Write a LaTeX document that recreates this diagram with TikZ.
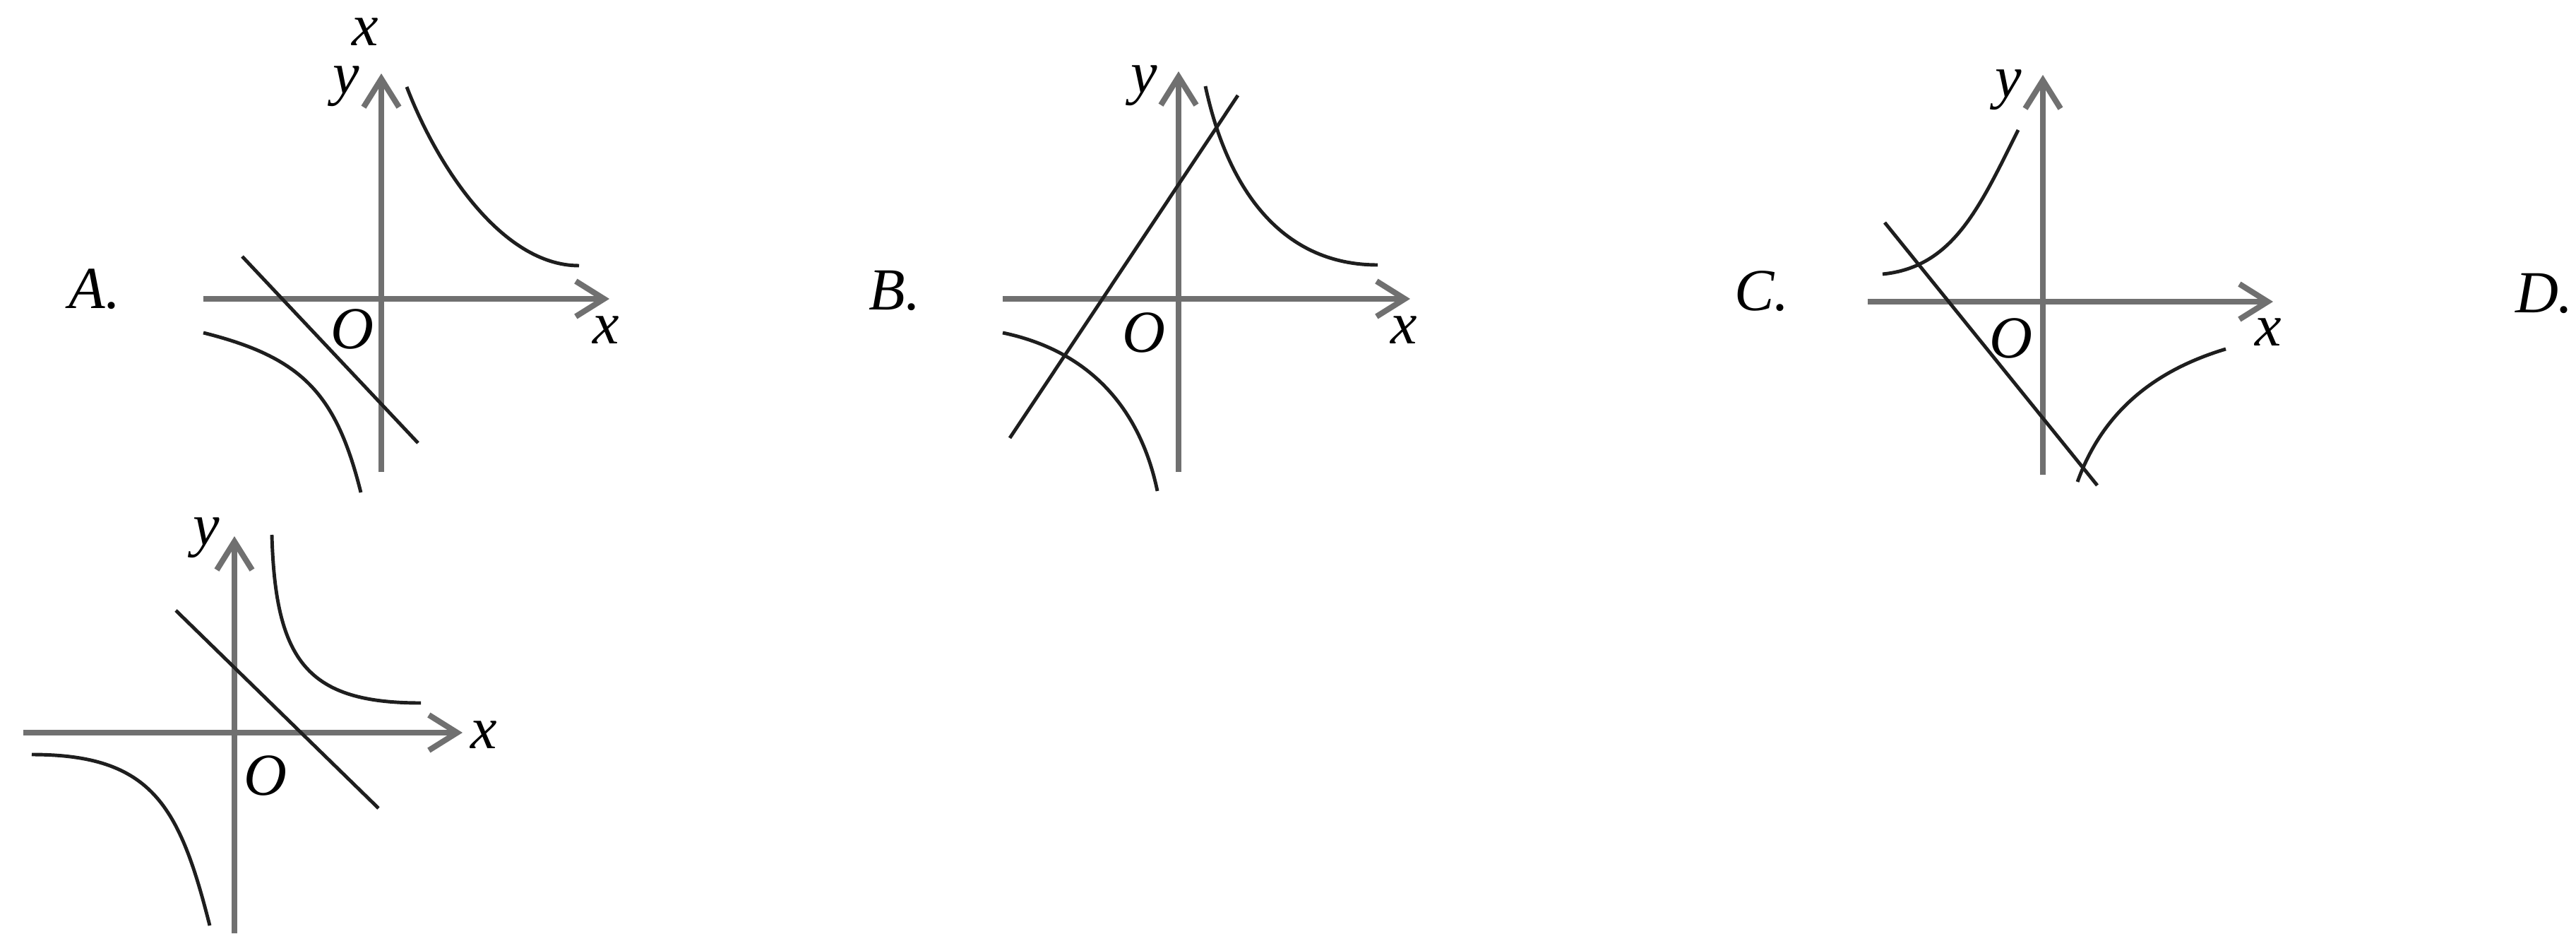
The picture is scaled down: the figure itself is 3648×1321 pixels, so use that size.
\documentclass[tikz,border=0pt]{standalone}
\usepackage{fontspec}
\setmainfont{Liberation Serif}
\usepackage{xcolor}
\definecolor{axgray}{RGB}{112,112,112}
\definecolor{crvblack}{RGB}{30,30,30}
\usetikzlibrary{arrows.meta,positioning}

\begin{document}
\begin{tikzpicture}[x=0.01cm, y=-0.01cm,
  axisline/.style={draw=axgray, line width=2.3pt, -{Straight Barb[length=4mm, width=5mm]}},
  graphline/.style={draw=crvblack, line width=1.4pt},
  lbl/.style={inner sep=0pt, font=\fontsize{24}{29}\selectfont\itshape}]
  \useasboundingbox (0,0) rectangle (3648,1321);

  % Denominator left from the question line
  \node[lbl] (topx) at (517,45) {x};

  % Graph A
  \node[lbl] (labA) at (134,409) {A.};
  \draw[axisline] (288,423) -- (863,423);
  \draw[axisline] (540,668) -- (540,104);
  \node[lbl] (yA) at (490,122) {y};
  \node[lbl] (xA) at (858,467) {x};
  \node[lbl] (oA) at (499,466) {O};
  \draw[graphline] (576,123) .. controls (618,233) and (710,376) .. (820,376);
  \draw[graphline] (288,471) .. controls (428,506) and (476,557) .. (511,697);
  \draw[graphline] (343,363) -- (592,627);

  % Graph B
  \node[lbl] (labB) at (1267,411) {B.};
  \draw[axisline] (1420,423) -- (1997,423);
  \draw[axisline] (1669,668) -- (1669,101);
  \node[lbl] (yB) at (1620,121) {y};
  \node[lbl] (xB) at (1988,467) {x};
  \node[lbl] (oB) at (1620,471) {O};
  \draw[graphline] (1707,122) .. controls (1737,262) and (1811,375) .. (1951,375);
  \draw[graphline] (1420,471) .. controls (1540,496) and (1614,575) .. (1639,695);
  \draw[graphline] (1430,620) -- (1753,135);

  % Graph C
  \node[lbl] (labC) at (2495,412) {C.};
  \draw[axisline] (2645,427) -- (3219,427);
  \draw[axisline] (2893,672) -- (2893,106);
  \node[lbl] (yC) at (2844,127) {y};
  \node[lbl] (xC) at (3212,470) {x};
  \node[lbl] (oC) at (2848,479) {O};
  \draw[graphline] (2666,388) .. controls (2766,378) and (2803,294) .. (2858,184);
  \draw[graphline] (2942,682) .. controls (2978,582) and (3052,524) .. (3152,494);
  \draw[graphline] (2669,315) -- (2970,687);

  % Graph D
  \node[lbl] (labD) at (3603,415) {D.};
  \draw[axisline] (33,1037) -- (655,1037);
  \draw[axisline] (332,1321) -- (332,759);
  \node[lbl] (yD) at (292,761) {y};
  \node[lbl] (xD) at (685,1040) {x};
  \node[lbl] (oD) at (376,1098) {O};
  \draw[graphline] (385,757) .. controls (390,937) and (436,995) .. (596,995);
  \draw[graphline] (45,1068) .. controls (215,1068) and (254,1140) .. (297,1310);
  \draw[graphline] (249,864) -- (536,1144);
\end{tikzpicture}
\end{document}
